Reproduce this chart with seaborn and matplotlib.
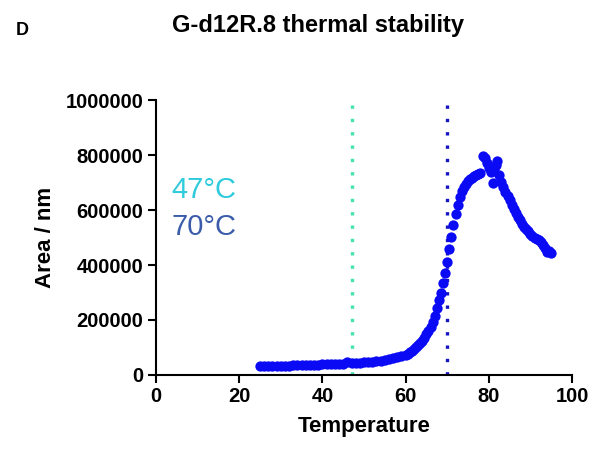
import matplotlib
matplotlib.use("Agg")
import matplotlib.pyplot as plt
import seaborn as sns
import pandas as pd

# Nanoparticle area versus temperature
temperature = [
    25, 26, 27, 28, 29, 30, 31, 32, 33, 34, 35, 36, 37, 38, 39, 40, 41, 42, 43, 44,
    45, 46, 47, 48, 49, 50, 51, 52, 53, 54, 55, 56, 57, 58, 59,
    60, 60.5, 61, 61.5, 62, 62.5, 63, 63.5, 64, 64.5, 65, 65.5, 66, 66.5, 67, 67.5,
    68, 68.5, 69, 69.5, 70, 70.5, 71, 71.5, 72, 72.5, 73, 73.5, 74, 74.5, 75, 75.5,
    76, 76.5, 77, 77.5, 78, 78.5, 79, 79.5, 80, 80.5, 81, 81.3, 81.7, 82, 82.5,
    83, 83.5, 84, 84.5, 85, 85.5, 86, 86.5, 87, 87.5, 88, 88.5, 89, 89.5, 90, 90.5,
    91, 91.5, 92, 92.5, 93, 93.5, 94, 94.5, 95,
]
area = [
    31000, 31500, 32000, 32500, 33000, 33500, 34000, 34500, 35000, 35500, 36000, 36500, 37000, 37500, 38000, 38500, 39000, 39500, 40000, 40500,
    41000, 47000, 43000, 44000, 45000, 46000, 47500, 49000, 50500, 52500, 55000, 57500, 60500, 64000, 68000,
    73000, 77000, 82000, 88000, 95000, 101000, 108000, 116000, 125000, 136000, 148000, 161000, 176000, 194000, 215000, 242000,
    272000, 300000, 335000, 372000, 412000, 458000, 502000, 545000, 585000, 620000, 648000, 668000, 684000, 695000, 705000, 712000,
    718000, 722000, 726000, 730000, 736000, 795000, 790000, 772000, 752000, 738000, 698000, 745000, 765000, 778000, 728000,
    702000, 684000, 666000, 650000, 635000, 620000, 605000, 590000, 575000, 562000, 550000, 540000, 530000, 522000, 512000, 505000,
    498000, 494000, 490000, 484000, 472000, 462000, 448000, 452000, 442000,
]

tm_values = [47, 70]
tm_labels = ["47°C", "70°C"]
tm_line_colors = ["#45E3B0", "#1414C0"]
tm_text_colors = ["#2ECBDC", "#3B5CAA"]

df = pd.DataFrame({"Temperature": temperature, "Area": area})

sns.set_theme(style="ticks")
plt.rcParams["font.family"] = ["Liberation Sans", "DejaVu Sans"]

fig = plt.figure(figsize=(5.97, 4.53), dpi=100)
ax = fig.add_axes([0.2613, 0.1722, 0.6968, 0.6070])

# Melting-point guides
for tm, c in zip(tm_values, tm_line_colors):
    ax.axvline(tm, color=c, linestyle=(0, (1, 3)), linewidth=2.4, zorder=1)

sns.scatterplot(data=df, x="Temperature", y="Area", ax=ax, color="#0A0AF5",
                s=55, linewidth=0, zorder=3, legend=False)

ax.set_xlim(0, 100)
ax.set_ylim(0, 1000000)
ax.set_xticks([0, 20, 40, 60, 80, 100])
ax.set_yticks([0, 200000, 400000, 600000, 800000, 1000000])
ax.set_yticklabels(["0", "200000", "400000", "600000", "800000", "1000000"])

for s in ["top", "right"]:
    ax.spines[s].set_visible(False)
for s in ["left", "bottom"]:
    ax.spines[s].set_linewidth(1.5)
    ax.spines[s].set_color("black")

ax.tick_params(axis="both", direction="out", length=6, width=1.5, color="black",
               labelsize=14.5, pad=3, labelcolor="black")
for lbl in ax.get_xticklabels() + ax.get_yticklabels():
    lbl.set_fontweight("bold")

ax.set_xlabel("Temperature", fontsize=16, fontweight="bold", color="black", labelpad=7)
ax.set_ylabel("Area / nm", fontsize=16, fontweight="bold", color="black", labelpad=7)

ax.text(3.8, 644000, tm_labels[0], color=tm_text_colors[0], fontsize=21, va="baseline", ha="left")
ax.text(3.8, 509000, tm_labels[1], color=tm_text_colors[1], fontsize=21, va="baseline", ha="left")

fig.text(0.533, 0.929, "G-d12R.8 thermal stability", fontsize=17, fontweight="bold",
         ha="center", va="baseline", color="black")
fig.text(0.027, 0.923, "D", fontsize=13, fontweight="bold", ha="left", va="baseline", color="black")

fig.savefig("out.png", dpi=100, facecolor="white")
